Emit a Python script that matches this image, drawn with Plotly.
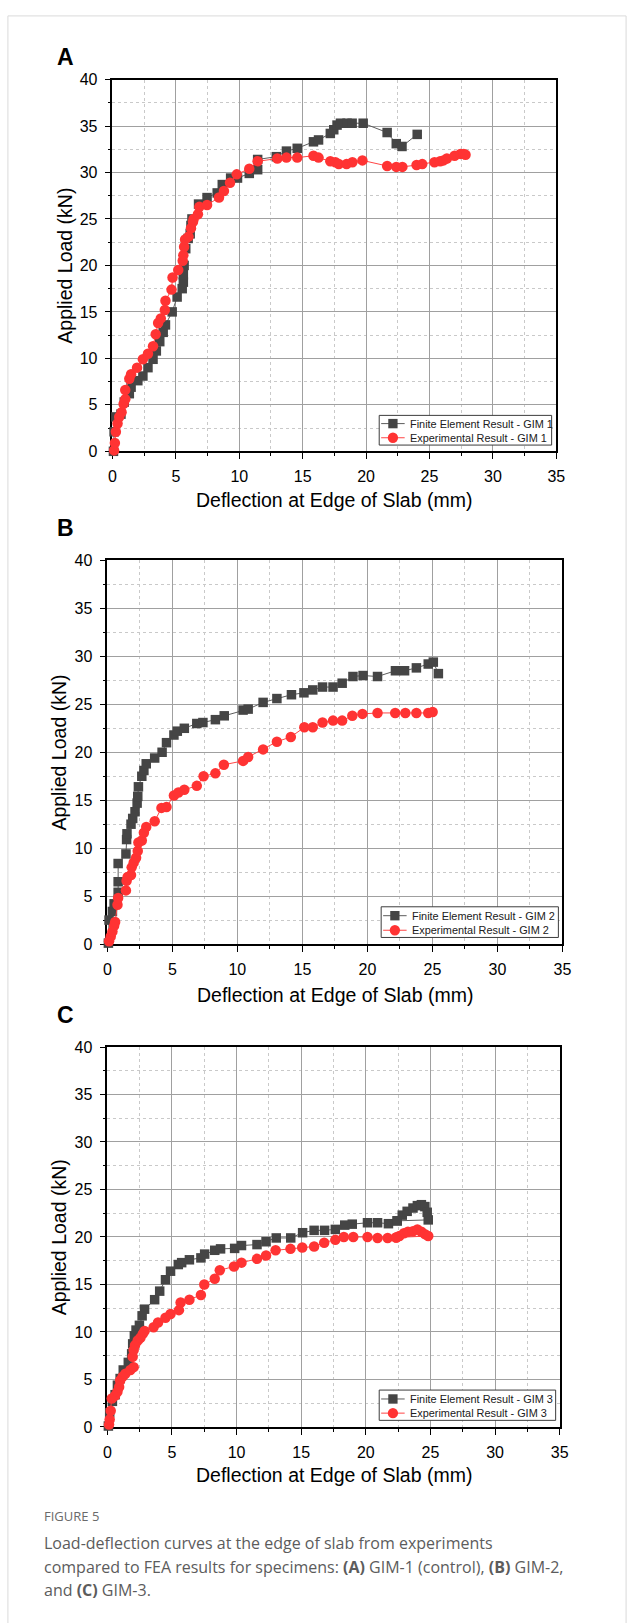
import plotly.graph_objects as go

# ---------------- data ----------------
# Panel A : GIM 1
fe1_x = [0.08, 0.13, 0.27, 0.67, 0.93, 1.33, 1.47, 2.0, 2.4, 2.8, 3.2, 3.46, 3.73, 4.0, 4.18, 4.71,
         5.1, 5.5, 5.59, 5.59, 5.65, 5.78, 5.97, 6.13, 6.19, 6.27, 6.79, 7.46, 8.26, 8.66, 9.32,
         9.86, 10.79, 11.45, 11.45, 12.92, 13.72, 14.57, 15.85, 16.25, 17.18, 17.45, 17.71,
         17.98, 18.5, 18.9, 19.77, 21.66, 22.38, 22.83, 24.03]
fe1_y = [0.0, 2.1, 3.7, 4.0, 5.3, 6.2, 6.9, 7.6, 8.1, 9.0, 9.9, 10.8, 11.8, 12.8, 13.6, 15.0,
         16.6, 17.5, 18.2, 19.0, 20.0, 21.8, 22.9, 23.4, 24.3, 25.0, 26.6, 27.3, 27.8, 28.7, 29.4,
         29.4, 29.9, 30.3, 31.4, 31.7, 32.3, 32.6, 33.3, 33.5, 34.2, 34.6, 35.1,
         35.3, 35.3, 35.3, 35.3, 34.3, 33.1, 32.8, 34.1]
ex1_x = [0.13, 0.19, 0.27, 0.4, 0.53, 0.72, 0.88, 1.01, 1.01, 1.33, 1.47, 1.94, 2.4, 2.8, 3.2,
         3.41, 3.6, 3.81, 4.13, 4.18, 4.66, 4.74, 5.19, 5.54, 5.59, 5.65, 5.73, 6.0, 6.19, 6.35,
         6.4, 6.74, 6.85, 7.46, 8.4, 8.79, 9.27, 9.8, 10.79, 11.45, 13.0, 13.72, 14.57, 15.85,
         16.25, 17.18, 17.58, 17.85, 18.46, 18.92, 19.71, 21.66, 22.38, 22.86, 23.98, 24.43,
         25.39, 25.84, 26.1, 26.37, 26.98, 27.44, 27.7, 27.84]
ex1_y = [0.1, 0.9, 2.1, 3.0, 3.7, 4.2, 5.1, 5.6, 6.6, 7.8, 8.3, 9.0, 9.9, 10.5, 11.3,
         12.6, 13.8, 14.3, 15.2, 16.2, 17.4, 18.7, 19.5, 20.5, 21.1, 22.0, 22.8, 23.1, 24.0, 24.7,
         25.0, 25.5, 26.3, 26.5, 27.3, 28.0, 28.9, 29.8, 30.4, 31.2, 31.5, 31.6, 31.6, 31.8,
         31.6, 31.2, 31.1, 30.9, 30.9, 31.1, 31.3, 30.7, 30.6, 30.6, 30.8, 30.9,
         31.1, 31.2, 31.3, 31.5, 31.8, 32.0, 32.0, 31.9]

# Panel B : GIM 2
fe2_x = [0.08, 0.13, 0.39, 0.52, 0.83, 0.83, 0.83, 1.43, 1.48, 1.51, 1.82, 1.95, 2.13, 2.29,
         2.34, 2.39, 2.65, 2.81, 2.99, 3.64, 4.21, 4.55, 5.12, 5.38, 5.92, 6.88, 7.35, 8.31,
         8.99, 10.44, 10.83, 11.98, 13.04, 14.16, 15.12, 15.8, 16.55, 17.36, 18.06, 18.89,
         19.67, 20.78, 22.16, 22.86, 23.77, 24.68, 25.07, 25.46]
fe2_y = [0.1, 2.5, 3.4, 4.2, 5.4, 6.5, 8.4, 9.4, 10.9, 11.5, 12.5, 13.1, 13.8, 14.7,
         15.4, 16.4, 17.5, 18.1, 18.8, 19.4, 20.0, 21.0, 21.8, 22.2, 22.5, 23.0, 23.1, 23.4,
         23.8, 24.4, 24.5, 25.2, 25.6, 26.0, 26.2, 26.5, 26.8, 26.8, 27.2, 27.9,
         28.0, 27.9, 28.5, 28.5, 28.8, 29.2, 29.4, 28.2]
ex2_x = [0.13, 0.26, 0.39, 0.52, 0.6, 0.78, 0.83, 1.43, 1.48, 1.56, 1.82, 1.87, 2.03, 2.21,
         2.34, 2.39, 2.65, 2.81, 2.99, 3.64, 4.16, 4.55, 5.12, 5.46, 5.92, 6.88, 7.4, 8.31,
         8.96, 10.44, 10.83, 11.98, 13.04, 14.11, 15.15, 15.8, 16.55, 17.36, 18.06, 18.84,
         19.62, 20.78, 22.14, 22.92, 23.77, 24.68, 25.02]
ex2_y = [0.3, 0.8, 1.3, 1.9, 2.3, 4.1, 4.8, 5.6, 6.6, 7.0, 7.2, 8.0, 8.5, 9.0,
         9.7, 10.6, 10.8, 11.6, 12.2, 12.8, 14.2, 14.3, 15.5, 15.8, 16.1, 16.5, 17.5, 17.8,
         18.7, 19.1, 19.5, 20.3, 21.1, 21.6, 22.6, 22.6, 23.1, 23.3, 23.3, 23.8,
         24.0, 24.1, 24.1, 24.1, 24.1, 24.1, 24.2]

# Panel C : GIM 3
fe3_x = [0.08, 0.18, 0.39, 0.6, 0.78, 0.99, 1.23, 1.62, 1.88, 1.96, 2.09, 2.22, 2.48, 2.69,
         2.88, 3.66, 4.05, 4.5, 4.89, 5.49, 5.75, 6.35, 7.24, 7.53, 8.31, 8.76, 9.85, 10.38,
         11.58, 12.28, 13.07, 14.19, 15.11, 16.0, 16.81, 17.64, 18.37, 18.95, 20.13, 20.91,
         21.75, 22.43, 22.82, 23.2, 23.65, 23.99, 24.3, 24.57, 24.75, 24.83, 22.43]
fe3_y = [0.1, 1.5, 2.7, 3.4, 4.4, 5.1, 6.0, 6.8, 7.7, 8.75, 9.6, 10.2, 10.7, 11.7,
         12.4, 13.4, 14.3, 15.5, 16.4, 17.1, 17.3, 17.6, 17.8, 18.2, 18.6, 18.75, 18.8, 19.1,
         19.2, 19.5, 19.9, 19.9, 20.45, 20.7, 20.7, 20.8, 21.25, 21.35, 21.5, 21.5,
         21.4, 21.7, 22.3, 22.7, 23.05, 23.3, 23.4, 23.2, 22.6, 21.8, 21.7]
ex3_x = [0.13, 0.18, 0.26, 0.34, 0.6, 0.78, 0.91, 0.99, 1.18, 1.39, 1.78, 2.04, 1.96, 2.04,
         2.14, 2.35, 2.56, 2.74, 2.88, 3.58, 3.92, 4.5, 4.89, 5.54, 5.67, 6.35, 7.24, 7.5,
         8.31, 8.7, 9.8, 10.38, 11.58, 12.28, 13.02, 14.17, 15.08, 16.0, 16.78, 17.64, 18.3,
         19.03, 20.13, 20.91, 21.69, 22.35, 22.6, 22.95, 23.26, 23.65, 23.99, 24.3, 24.57,
         24.83, 22.35]
ex3_y = [0.25, 0.8, 1.7, 3.0, 3.3, 3.7, 4.2, 4.9, 5.3, 5.6, 6.0, 6.3, 7.4, 8.1,
         8.6, 9.1, 9.4, 9.8, 10.1, 10.5, 11.0, 11.5, 11.9, 12.3, 13.1, 13.4, 13.9, 15.0,
         15.6, 16.5, 16.9, 17.3, 17.7, 18.05, 18.6, 18.75, 18.9, 19.0, 19.4, 19.7, 20.0,
         20.0, 20.0, 19.9, 19.9, 19.95, 20.1, 20.4, 20.55, 20.6, 20.8, 20.55, 20.3,
         20.1, 19.95]

panel_labels = ["A", "B", "C"]
fe_names = ["Finite Element Result - GIM 1", "Finite Element Result - GIM 2", "Finite Element Result - GIM 3"]
ex_names = ["Experimental Result - GIM 1", "Experimental Result - GIM 2", "Experimental Result - GIM 3"]
x_title = "Deflection at Edge of Slab (mm)"
y_title = "Applied Load (kN)"
x_range = [0, 35]
y_range = [0, 40]

# ---------------- layout helpers ----------------
W, H = 639, 1623
def fx(p):
    return p / W
def fy(p):
    return 1 - p / H

# plot-area boxes in pixels: left, right, top, bottom
boxes = [(110.7, 563.8, 72.3, 448.0),
         (105.5, 570.0, 558.3, 946.0),
         (105.5, 567.2, 1050.0, 1434.0)]
# legend boxes: left, top, right, bottom ; row centres ; glyph x-range ; text x
legend_boxes = [(383.0, 411.7, 559.0, 441.7), (385.0, 908.3, 565.9, 939.3), (383.0, 1396.7, 563.1, 1427.3)]
legend_rows = [(420.0, 434.3), (917.3, 932.0), (1405.7, 1420.0)]
legend_glyph = [(385.0, 409.0), (387.0, 411.0), (385.0, 409.0)]
legend_text_x = [412.0, 414.1, 412.4]
label_pos = [(63.1, 50), (63.1, 525), (63.1, 1018)]
xtitle_y = [497, 997, 1483]
ytitle_x = [62.5, 56.5, 56.5]

FONT = "Liberation Sans, Arial, sans-serif"
GRAY = "#454545"
RED = "#ff3333"
GRAY_LINE = "#5c5c5c"
RED_LINE = "#ff4545"

fe_data = [(fe1_x, fe1_y), (fe2_x, fe2_y), (fe3_x, fe3_y)]
ex_data = [(ex1_x, ex1_y), (ex2_x, ex2_y), (ex3_x, ex3_y)]

fig = go.Figure()
annotations = []
shapes = []
layout = dict(
    width=W, height=H, margin=dict(l=0, r=0, t=0, b=0),
    paper_bgcolor="white", plot_bgcolor="white",
    font=dict(family=FONT, color="black"), showlegend=False,
)

SQ, CI = 9.5, 10.5

for i in range(3):
    sfx = "" if i == 0 else str(i + 1)
    xa, ya = "x" + sfx, "y" + sfx
    l, r, t, b = boxes[i]
    fig.add_trace(go.Scatter(
        x=fe_data[i][0], y=fe_data[i][1], mode="lines+markers", name=fe_names[i],
        xaxis=xa, yaxis=ya, cliponaxis=False,
        line=dict(color=GRAY_LINE, width=1),
        marker=dict(symbol="square", size=SQ, color=GRAY, line=dict(width=0)),
    ))
    fig.add_trace(go.Scatter(
        x=ex_data[i][0], y=ex_data[i][1], mode="lines+markers", name=ex_names[i],
        xaxis=xa, yaxis=ya, cliponaxis=False,
        line=dict(color=RED_LINE, width=1),
        marker=dict(symbol="circle", size=CI, color=RED, line=dict(width=0)),
    ))
    common = dict(
        showline=True, linecolor="black", linewidth=1.5, mirror=True,
        ticks="outside", ticklen=6, tickwidth=1.2, tickcolor="black",
        showgrid=True, gridcolor="#a0a0a0", gridwidth=1,
        zeroline=False, fixedrange=True,
        tickfont=dict(family=FONT, size=16, color="black"),
        minor=dict(ticks="outside", ticklen=3, tickwidth=1, tickcolor="black",
                   showgrid=True, gridcolor="#c9c9c9", griddash="dot", gridwidth=1,
                   dtick=2.5, tick0=0),
        layer="below traces",
    )
    layout["xaxis" + sfx] = dict(common, domain=[fx(l), fx(r)], range=x_range,
                                 dtick=5, tick0=0, anchor=ya, ticklabelstandoff=4)
    layout["yaxis" + sfx] = dict(common, domain=[fy(b), fy(t)], range=y_range,
                                 dtick=5, tick0=0, anchor=xa, ticklabelstandoff=4)

    # ----- legend box (drawn in paper space) -----
    bl, bt, br, bb = legend_boxes[i]
    shapes.append(dict(type="rect", xref="paper", yref="paper",
                       x0=fx(bl), x1=fx(br), y0=fy(bb), y1=fy(bt),
                       line=dict(color="#3c3c3c", width=1), fillcolor="white", layer="above"))
    g0, g1 = legend_glyph[i]
    gc = (g0 + g1) / 2
    for k, (lc, mc, sym, sz, name) in enumerate([(GRAY_LINE, GRAY, "square", SQ, fe_names[i]),
                                                 (RED_LINE, RED, "circle", CI, ex_names[i])]):
        ry = legend_rows[i][k]
        shapes.append(dict(type="line", xref="paper", yref="paper",
                           x0=fx(g0), x1=fx(g1), y0=fy(ry), y1=fy(ry),
                           line=dict(color=lc, width=1), layer="above"))
        hs = sz / 2
        shapes.append(dict(type="rect" if sym == "square" else "circle", xref="paper", yref="paper",
                           x0=fx(gc - hs), x1=fx(gc + hs), y0=fy(ry + hs), y1=fy(ry - hs),
                           line=dict(width=0), fillcolor=mc, layer="above"))
        annotations.append(dict(text=name, x=fx(legend_text_x[i]), y=fy(ry), xref="paper", yref="paper",
                                showarrow=False, xanchor="left", yanchor="middle",
                                font=dict(family=FONT, size=10.9, color="#202020")))

    # panel label
    annotations.append(dict(
        text="<b>%s</b>" % panel_labels[i], x=fx(label_pos[i][0]), y=fy(label_pos[i][1]),
        xref="paper", yref="paper", showarrow=False, xanchor="center", yanchor="middle",
        font=dict(family=FONT, size=23, color="black")))
    # axis titles
    annotations.append(dict(
        text=x_title, x=fx((l + r) / 2), y=fy(xtitle_y[i]), xref="paper", yref="paper",
        showarrow=False, xanchor="center", yanchor="middle",
        font=dict(family=FONT, size=19.5, color="black")))
    annotations.append(dict(
        text=y_title, x=fx(ytitle_x[i]), y=fy((t + b) / 2), xref="paper", yref="paper",
        showarrow=False, xanchor="center", yanchor="middle", textangle=-90,
        font=dict(family=FONT, size=19.5, color="black")))

# caption
CAP = "Open Sans, Noto Sans, sans-serif"
annotations.append(dict(text="FIGURE 5", x=fx(39), y=fy(1524), xref="paper", yref="paper",
                        showarrow=False, xanchor="left", yanchor="middle",
                        font=dict(family=CAP, size=13, color="#6a6a6a")))
cap_lines = ["Load-deflection curves at the edge of slab from experiments",
             "compared to FEA results for specimens: <b>(A)</b> GIM-1 (control), <b>(B)</b> GIM-2,",
             "and <b>(C)</b> GIM-3."]
for txt, yy in zip(cap_lines, [1551, 1575, 1599]):
    annotations.append(dict(text=txt, x=fx(39), y=fy(yy), xref="paper", yref="paper",
                            showarrow=False, xanchor="left", yanchor="middle",
                            font=dict(family=CAP, size=16, color="#5c5c5c")))

shapes.append(dict(type="rect", xref="paper", yref="paper",
                   x0=fx(4), x1=fx(635), y0=fy(1640), y1=fy(8),
                   line=dict(color="#dadada", width=1), layer="below"))
layout["annotations"] = annotations
layout["shapes"] = shapes
fig.update_layout(**layout)
fig.write_html("out.html",
               post_script="document.body.style.margin='0px';document.body.style.overflow='hidden';")
